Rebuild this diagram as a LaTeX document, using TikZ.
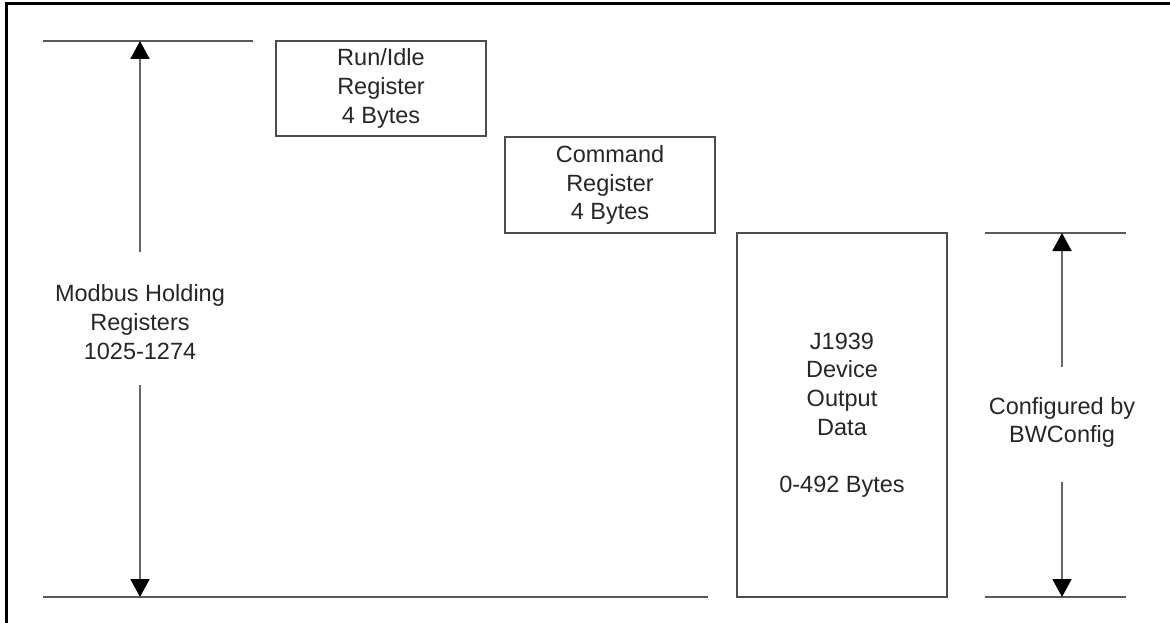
\documentclass[tikz,border=0pt]{standalone}
\usepackage{fontspec}
\setmainfont{Liberation Sans}
\usetikzlibrary{arrows.meta}
\begin{document}
\begin{tikzpicture}[x=1pt,y=-1pt,
  txt/.style={align=center,inner sep=0pt,text=black!85,font=\fontsize{23.5}{28.6}\selectfont},
  regbox/.style={txt,draw=black!70,line width=1.6pt,minimum width=210pt},
  rule/.style={draw=black!65,line width=2pt},
  dim/.style={draw=black!60,line width=2pt,-{Triangle[length=18pt,width=19pt,color=black]}}]
\useasboundingbox (0,0) rectangle (1170,623);
\draw[line width=3pt] (6,623) -- (6,4) -- (1170,4);

\node[regbox,minimum height=95pt](runidle) at (381,88.5) {Run/Idle\\Register\\4 Bytes};
\node[regbox,minimum height=96pt](command) at (610,185) {Command\\Register\\4 Bytes};
\node[regbox,minimum height=364pt](j1939) at (842,415) {J1939\\Device\\Output\\Data\\[28.6pt]0-492 Bytes};

\node[txt](mhr) at (140,322) {Modbus Holding\\Registers\\1025-1274};
\node[txt](cfg) at (1062,422.5) {Configured by\\BWConfig};

\coordinate (lt1) at (43,41);
\coordinate (lt2) at (253,41);
\coordinate (lb1) at (43,597);
\coordinate (lb2) at (708,597);
\coordinate (rt1) at (985,233);
\coordinate (rt2) at (1126,233);
\coordinate (rb1) at (985,597);
\coordinate (rb2) at (1126,597);

\coordinate (mhrtop) at (140,41);
\coordinate (mhrbot) at (140,597);
\coordinate (mhrup) at (140,252);
\coordinate (mhrdn) at (140,385);
\coordinate (cfgtop) at (1062,233);
\coordinate (cfgbot) at (1062,597);
\coordinate (cfgup) at (1062,367);
\coordinate (cfgdn) at (1062,482);

\draw[rule] (lt1) -- (lt2);
\draw[rule] (lb1) -- (lb2);
\draw[rule] (rt1) -- (rt2);
\draw[rule] (rb1) -- (rb2);

\draw[dim] (mhrup) -- (mhrtop);
\draw[dim] (mhrdn) -- (mhrbot);
\draw[dim] (cfgup) -- (cfgtop);
\draw[dim] (cfgdn) -- (cfgbot);
\end{tikzpicture}
\end{document}
